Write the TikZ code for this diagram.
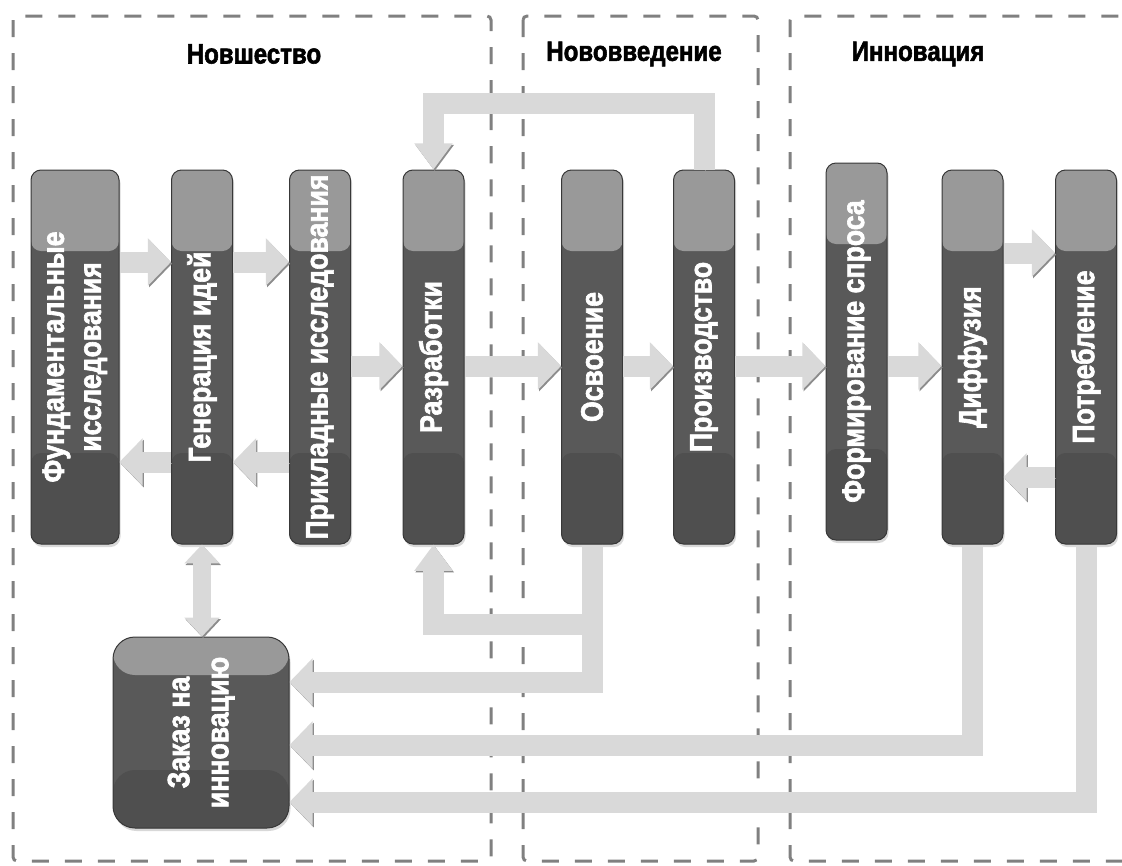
\documentclass[tikz,border=0pt]{standalone}
\usepackage{fontspec}
\setmainfont{Liberation Sans}[FakeStretch=0.86, BoldFont={Liberation Sans Bold}, BoldFeatures={FakeBold=2}]
\usepackage{graphicx}
\usetikzlibrary{arrows.meta,shadows}

\definecolor{boxtop}{gray}{0.60}
\definecolor{boxmid}{gray}{0.35}
\definecolor{boxlow}{gray}{0.31}
\definecolor{boxrim}{gray}{0.22}
\definecolor{blkfill}{gray}{0.85}
\definecolor{blkshade}{gray}{0.55}
\definecolor{framegray}{gray}{0.50}

\tikzset{
  stage/.style={draw=boxrim, line width=1pt, fill=boxmid, rounded corners=10pt,
    minimum width=61pt, minimum height=374pt, inner sep=0pt, text=white,
    font=\fontsize{31}{36}\selectfont\bfseries,
    drop shadow={shadow xshift=1.5pt, shadow yshift=-3pt, fill=gray!60},
    path picture={
      \fill[boxtop] (path picture bounding box.north west) rectangle ([yshift=-81pt]path picture bounding box.north east);
      \fill[boxlow] (path picture bounding box.south west) rectangle ([yshift=91pt]path picture bounding box.south east);
    }},
  order/.style={stage, rounded corners=22pt, minimum width=176pt, minimum height=191pt,
    path picture={
      \fill[boxtop] (path picture bounding box.north west) rectangle ([yshift=-38pt]path picture bounding box.north east);
      \fill[boxlow] (path picture bounding box.south west) rectangle ([yshift=58pt]path picture bounding box.south east);
    }},
  title/.style={font=\fontsize{28}{32}\selectfont\bfseries},
  frame/.style={draw=framegray, line width=3pt, dash pattern=on 17pt off 16pt, rounded corners=4pt},
  blktip/.style={-{Triangle[length=0pt 1.1, width=0pt 2.2]}},
  blkvtip/.style={-{Triangle[length=0pt 1.25, width=0pt 1.75]}},
  blkbothtip/.style={{Triangle[length=0pt 1.05, width=0pt 1.9]}-{Triangle[length=0pt 1.05, width=0pt 1.9]}},
  blk/.style={line width=21pt, draw=blkfill, blktip,
    preaction={draw=blkshade, blktip, transform canvas={shift={(1.2pt,-1.6pt)}}}},
  blkv/.style={line width=21pt, draw=blkfill, blkvtip,
    preaction={draw=blkshade, blkvtip, transform canvas={shift={(1.2pt,-1.6pt)}}}},
  blkboth/.style={line width=18pt, draw=blkfill, blkbothtip,
    preaction={draw=blkshade, blkbothtip, transform canvas={shift={(1.2pt,-1.6pt)}}}}
}

\begin{document}
\begin{tikzpicture}[x=1pt,y=-1pt]
  \useasboundingbox (0,0) rectangle (1122,865);

  % phases
  \draw[frame] (13,16) rectangle (491,861);
  \draw[frame] (523,16) rectangle (758,861);
  \draw[frame] (790,16) rectangle (1170,861);

  \node[title] (novshestvo)   at (254,54) {Новшество};
  \node[title] (novovvedenie) at (634,54) {Нововведение};
  \node[title] (innovaciya)   at (918,54) {Инновация};

  % stages
  \node[stage, minimum width=88pt, font=\fontsize{31}{37}\selectfont\bfseries] (fund) at (75,357)
    {\rotatebox{90}{\begin{tabular}{@{}c@{}}Фундаментальные\\исследования\end{tabular}}};
  \node[stage] (gen)    at (202,357)   {\rotatebox{90}{Генерация идей}};
  \node[stage] (prikl)  at (320,357)   {\rotatebox{90}{Прикладные исследования}};
  \node[stage] (razr)   at (433.5,357) {\rotatebox{90}{Разработки}};
  \node[stage] (osv)    at (592,357)   {\rotatebox{90}{Освоение}};
  \node[stage] (proizv) at (704,357)   {\rotatebox{90}{Производство}};
  \node[stage, minimum height=377pt] (form) at (856.5,351.5) {\rotatebox{90}{Формирование спроса}};
  \node[stage] (diff)   at (972.5,357) {\rotatebox{90}{Диффузия}};
  \node[stage] (potr)   at (1086,357)  {\rotatebox{90}{Потребление}};

  \node[order, font=\fontsize{31}{39}\selectfont\bfseries] (zakaz) at (201,732.5)
    {\rotatebox{90}{\begin{tabular}{@{}c@{}}Заказ на\\инновацию\end{tabular}}};

  % rows for the links
  \coordinate (rowA)   at (0,262);
  \coordinate (rowB)   at (0,462);
  \coordinate (rowC)   at (0,366);
  \coordinate (rowD)   at (0,253);
  \coordinate (rowE)   at (0,477);
  \coordinate (topbar) at (0,103);
  \coordinate (branch) at (0,624);
  \coordinate (low1)   at (0,682);
  \coordinate (low2)   at (0,745);
  \coordinate (low3)   at (0,802);

  \draw[blk] (fund.east |- rowA)   -- (gen.west |- rowA);
  \draw[blk] (gen.east |- rowA)    -- (prikl.west |- rowA);
  \draw[blk] (gen.west |- rowB)    -- (fund.east |- rowB);
  \draw[blk] (prikl.west |- rowB)  -- (gen.east |- rowB);
  \draw[blk] (prikl.east |- rowC)  -- (razr.west |- rowC);
  \draw[blk] (razr.east |- rowC)   -- (osv.west |- rowC);
  \draw[blk] (osv.east |- rowC)    -- (proizv.west |- rowC);
  \draw[blk] (proizv.east |- rowC) -- (form.west |- rowC);
  \draw[blk] (form.east |- rowC)   -- (diff.west |- rowC);
  \draw[blk] (diff.east |- rowD)   -- (potr.west |- rowD);
  \draw[blk] (potr.west |- rowE)   -- (diff.east |- rowE);

  \draw[blkv] (proizv.north) -- (proizv.north |- topbar) -- (razr.north |- topbar) -- (razr.north);
  \draw[blkv] (osv.south |- branch) -- (razr.south |- branch) -- (razr.south);

  \draw[blk] (osv.south)  -- (osv.south |- low1)  -- (zakaz.east |- low1);
  \draw[blk] (diff.south) -- (diff.south |- low2) -- (zakaz.east |- low2);
  \draw[blk] (potr.south) -- (potr.south |- low3) -- (zakaz.east |- low3);

  \draw[blkboth] (gen.south) -- (gen.south |- zakaz.north);
\end{tikzpicture}
\end{document}
